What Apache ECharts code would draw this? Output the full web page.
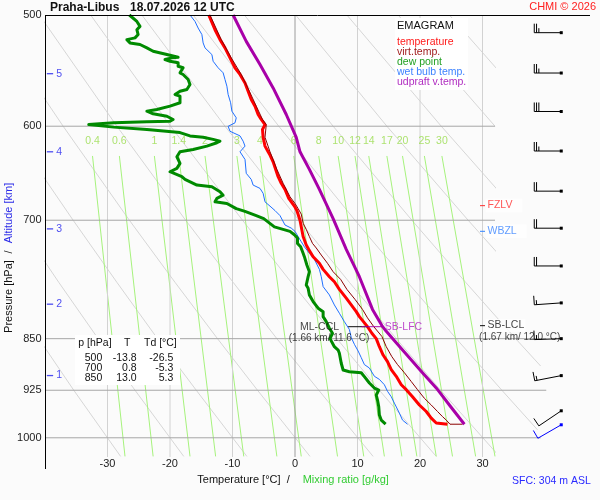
<!DOCTYPE html>
<html>
<head>
<meta charset="utf-8">
<script src="https://cdn.jsdelivr.net/npm/echarts@6/dist/echarts.min.js"></script>
<style>
  html, body { margin: 0; padding: 0; background: #fbfbfb; }
  #emagram { width: 600px; height: 500px; }
</style>
</head>
<body>
<div id="emagram"></div>
<script>
// ==============================================================
// sounding data  [pressure hPa, temperature °C]
// ==============================================================
var temperature = [[500,-13.8],[512.2,-12.8],[520.6,-12.0],[527.7,-11.2],[536.4,-10.4],[545.2,-9.6],[551.2,-8.8],[558.9,-8.0],[566.6,-7.5],[574.3,-7.0],[580.6,-6.4],[588.6,-5.9],[593.4,-5.4],[598.4,-4.8],[603.2,-5.2],[611.0,-5.1],[619.9,-4.8],[625.7,-4.3],[629.1,-4.0],[636.0,-3.5],[644.0,-3.1],[651.8,-2.7],[658.9,-2.2],[665.5,-1.6],[675.4,-1.0],[684.0,-0.1],[689.0,0.3],[700,0.8],[719.0,1.3],[728.9,1.8],[734.3,2.2],[743.1,2.9],[751.2,3.9],[758.7,4.5],[767.9,5.5],[774.3,6.3],[784.0,7.1],[795.4,8.2],[804.3,9.0],[813.2,9.8],[819.9,10.3],[833.4,11.6],[842.5,12.3],[850,13.0],[861.3,13.5],[873.1,14.1],[882.7,14.8],[894.2,15.4],[904.1,16.2],[916.7,17.0],[924.1,17.8],[934.9,18.8],[947.7,19.9],[957.8,21.0],[968.4,21.8],[976.1,22.6],[978,24.4]];

var virtTemp = [[500,-13.6],[520.6,-11.8],[536.4,-10.2],[551.2,-8.6],[566.6,-7.3],[580.6,-6.2],[593.4,-5.2],[598.4,-4.6],[611.0,-4.8],[625.7,-4.0],[644.0,-2.9],[658.9,-1.9],[673.6,-0.8],[681.0,0.0],[686.8,0.5],[693.0,1.0],[703.5,1.3],[710.6,1.8],[719.0,2.3],[727.1,2.8],[732.6,3.4],[741.1,4.2],[751.2,5.2],[761.7,6.1],[771.3,7.3],[784.0,8.3],[797.0,9.6],[810.2,10.8],[821.5,11.6],[833.4,12.6],[846.9,13.9],[861.3,14.6],[875.5,15.5],[886.9,16.4],[898.8,17.5],[911.9,18.6],[924.1,19.6],[937.3,20.7],[947.7,21.8],[957.8,22.8],[965.9,23.6],[971.4,24.2],[978,24.8],[978,26.8]];

var dewPoint = [[500,-26.5],[505.3,-25.3],[509.4,-24.8],[512.2,-25.3],[516.3,-25.1],[519.1,-25.6],[520.6,-26.9],[522.1,-26.9],[523.4,-26.4],[524.8,-24.8],[527.7,-23.7],[530.6,-22.7],[533.5,-20.5],[535.9,-18.7],[536.4,-19.7],[537.9,-20.8],[539.4,-20.0],[540.8,-18.7],[543.8,-18.7],[545.2,-17.9],[549.7,-18.4],[551.2,-17.9],[555.8,-17.1],[560.4,-16.8],[565.0,-17.3],[566.6,-18.4],[569.6,-19.2],[571.2,-18.4],[577.4,-18.4],[580.6,-20.0],[583.8,-22.1],[585.4,-23.7],[587.9,-22.7],[590.3,-20.5],[593.4,-19.5],[595.2,-20.0],[595.7,-23.7],[596.7,-29.0],[598.4,-33.0],[600.9,-29.0],[603.2,-23.7],[606.3,-18.4],[609.6,-16.8],[611.0,-14.7],[613.1,-13.1],[614.9,-12.0],[616.5,-12.5],[619.9,-14.1],[623.3,-16.3],[625.7,-18.4],[630.8,-18.9],[637.7,-18.4],[642.9,-18.9],[646.5,-20.0],[651.8,-18.1],[654.7,-17.6],[660.8,-15.7],[662.7,-13.3],[668.1,-12.0],[671.8,-11.5],[675.4,-12.5],[679.2,-12.8],[681.0,-10.9],[686.8,-9.4],[689.9,-8.0],[694.7,-6.2],[698.1,-5.0],[707.6,-3.3],[712.9,-0.8],[716.9,-0.1],[720.7,0.4],[727.1,0.4],[731.1,0.9],[739.0,1.3],[743.1,1.5],[753.3,1.9],[761.7,2.3],[767.9,2.1],[778.4,1.8],[782.6,2.1],[791.2,2.3],[799.9,2.9],[808.6,3.7],[813.2,4.5],[819.9,4.5],[826.6,5.0],[835.6,5.5],[842.5,6.0],[850,5.6],[861.3,6.3],[866.0,6.9],[870.7,7.1],[885.0,7.4],[894.8,7.7],[897.3,8.7],[898.8,10.6],[904.7,11.1],[914.1,11.9],[921.7,12.7],[924.7,13.4],[932.3,13.0],[940.0,13.2],[950.4,13.4],[963.4,13.5],[971.4,13.8],[977.8,14.5]];

var wetBulb = [[500,-16.8],[505.3,-16.0],[510.8,-15.5],[516.3,-14.9],[523.4,-14.7],[527.7,-14.4],[533.5,-13.3],[539.4,-13.1],[545.2,-12.3],[549.7,-11.5],[555.8,-11.2],[561.9,-10.9],[569.6,-10.7],[577.4,-10.3],[585.4,-10.1],[591.8,-9.4],[596.7,-9.6],[600.1,-10.7],[605.0,-10.4],[609.6,-8.8],[614.9,-8.3],[619.9,-8.0],[625.7,-8.8],[633.6,-8.0],[648.2,-7.8],[654.7,-7.0],[660.8,-6.7],[664.4,-5.6],[669.8,-5.1],[679.2,-4.8],[684.0,-4.0],[689.0,-3.2],[694.7,-2.4],[705.5,-1.6],[709.1,-0.6],[712.9,0.0],[719.0,0.5],[725.1,1.0],[731.1,1.5],[739.0,2.3],[746.4,3.1],[758.7,3.9],[767.9,4.2],[780.5,4.5],[791.2,5.5],[804.3,6.3],[815.3,7.1],[826.6,7.9],[837.3,8.7],[848.5,9.0],[857.9,9.5],[867.4,10.1],[876.9,10.6],[886.9,11.1],[891.9,11.9],[904.1,12.7],[908.7,13.5],[916.7,14.3],[926.6,14.8],[934.9,15.4],[944.8,15.9],[960.3,16.7],[971.4,17.2],[978,18.0]];

var updraft = [[500,-9.9],[522.1,-7.8],[542.3,-5.6],[563.5,-3.5],[588.6,-1.4],[611,0.2],[625.7,0.8],[644,2.3],[665.5,3.9],[698.1,6.1],[734.3,8.2],[767.9,10.3],[810.2,12.4],[832,13.9],[839.8,14.6],[855.7,16.2],[876.9,18.3],[898.8,20.4],[921.5,22.6],[947.7,24.7],[978,27.1]];

// dry adiabats [pressure, temperature]
var dryAdiabats = [
  [[700,-53.6],[775,-47.1],[850,-41.0],[925,-35.4],[1031,-27.9]],
  [[700,-44.5],[775,-37.8],[850,-31.5],[925,-25.6],[1031,-17.8]],
  [[600,-45.8],[700,-35.5],[775,-28.5],[850,-22.0],[925,-15.8],[1031,-7.7]],
  [[500,-49.1],[600,-37.1],[700,-26.5],[775,-19.2],[850,-12.4],[925,-6.0],[1031,2.4]],
  [[500,-40.9],[600,-28.5],[700,-17.5],[775,-9.9],[850,-2.9],[925,3.8],[1031,12.5]],
  [[500,-32.7],[600,-19.9],[700,-8.4],[775,-0.6],[850,6.7],[925,13.5],[1031,22.6]],
  [[500,-24.5],[600,-11.2],[700,0.6],[775,8.7],[850,16.2],[925,23.3],[1031,32.7]],
  [[500,0.1],[600,14.7],[700,27.7],[775,36.6]],
  [[500,8.3],[600,23.4],[700,36.7]],
  [[500,16.5],[600,32.0]],
  [[500,24.7],[550,32.9]]
];
// the two adiabats that run on into the wind column
var dryAdiabatsLow = [
  [[500,-16.3],[600,-2.6],[700,9.6],[775,18.0],[850,25.8],[925,33.1],[987,38.8]],
  [[500,-8.1],[600,6.1],[700,18.7],[775,27.3],[850,35.3],[889,39.3]]
];

// mixing ratio lines (g/kg): dew point at 630 hPa and at 1031 hPa
var mixRatio = [0.4, 0.6, 1, 1.4, 2, 3, 4, 6, 8, 10, 12, 14, 17, 20, 25, 30];
var mixTopT = [-32.4, -28.1, -22.5, -18.6, -14.4, -9.3, -5.6, -0.2, 3.8, 6.9, 9.6, 11.8, 14.7, 17.2, 20.7, 23.5];
var mixBotT = [-27.2, -22.7, -16.8, -12.7, -8.2, -2.9, 1.0, 6.8, 11.0, 14.3, 17.1, 19.5, 22.6, 25.2, 28.9, 32.0];

var pressureTicks = [500, 600, 700, 850, 925, 1000];
var isobars = [600, 700, 850, 925, 1000];
var tempTicks = [-30, -20, -10, 0, 10, 20, 30];

var altitudeKm = [1, 2, 3, 4, 5];
var altitudeP = [903, 803.3, 710, 625.7, 550.5];

// wind profile, last entry is the surface
var windP = [514.7, 549.9, 585.7, 624.9, 667.4, 709.2, 754.5, 801.6, 850, 903.1, 956.7, 978.9];
var windDir = [270, 270, 270, 270, 270, 270, 270, 266, 268, 259, 236, 240];
var windSpd = [25, 25, 30, 25, 20, 20, 20, 15, 15, 15, 10, 10];

var tableP = [500, 700, 850];
var tableT = [-13.8, 0.8, 13.0];
var tableTd = [-26.5, -5.3, 5.3];

var levelP = { FZLV: 683.4, WBZL: 712.9, SBLCL: 832, MLCCL: 833.4, SBLFC: 833.4 };

// ==============================================================
var FONT = '"Liberation Sans", Arial, sans-serif';
var lp = function (p) { return Math.log10(p); };
var xy = function (rows) { return rows.map(function (r) { return [r[1], lp(r[0])]; }); };

function lineSeries(data, color, width, grid, z) {
    return {
        type: 'line', xAxisIndex: grid, yAxisIndex: grid, data: data,
        symbol: 'none', silent: true, z: z, clip: true,
        lineStyle: { color: color, width: width, join: 'round' }
    };
}

var series = [];

// background: dry adiabats
dryAdiabats.forEach(function (a) { series.push(lineSeries(xy(a), '#d6d6d6', 1, 0, 1)); });
dryAdiabatsLow.forEach(function (a) { series.push(lineSeries(xy(a), '#d6d6d6', 1, 1, 1)); });

// mixing ratio lines
mixRatio.forEach(function (w, i) {
    series.push(lineSeries([[mixTopT[i], lp(630)], [mixBotT[i], lp(1031)]], '#a6f27c', 1, 0, 1));
});
series.push({
    type: 'scatter', xAxisIndex: 0, yAxisIndex: 0, silent: true, z: 2,
    symbolSize: 1, itemStyle: { color: 'rgba(0,0,0,0)' },
    data: mixRatio.map(function (w, i) { return [mixTopT[i], lp(615)]; }),
    label: {
        show: true, position: 'inside', color: '#99dc4c', fontSize: 10.5, fontFamily: FONT,
        formatter: function (p) { return String(mixRatio[p.dataIndex]); }
    }
});

// isotherm grid lines
tempTicks.forEach(function (t) {
    series.push(lineSeries([[t, lp(500)], [t, lp(1032)]], t === 0 ? '#9c9c9c' : '#d2d2d2', 1, 0, 1));
});
// isobars
var isobarEnd = { 600: 32, 700: 32, 850: 40.2, 925: 40.2, 1000: 39.3 };
isobars.forEach(function (p) {
    series.push(lineSeries([[-40, lp(p)], [isobarEnd[p], lp(p)]], '#a6a6a6', 1, 1, 1));
});

// profiles
series.push(lineSeries(xy(wetBulb), '#1f6fff', 1, 0, 5));
series.push(lineSeries(xy(dewPoint), '#008a00', 3, 0, 5));
series.push(lineSeries(xy(temperature), '#ff0000', 3, 0, 5));
series.push(lineSeries(xy(virtTemp), '#8c0000', 1, 0, 5));
series.push(lineSeries(xy(updraft), '#a800a8', 3, 0, 5));

// altitude marks
series.push({
    type: 'scatter', xAxisIndex: 0, yAxisIndex: 0, silent: true, z: 6,
    symbol: 'rect', symbolSize: [6.3, 1.3], itemStyle: { color: '#2222ee' },
    data: altitudeP.map(function (p) { return [-39.2, lp(p)]; }),
    label: {
        show: true, position: 'right', distance: 3, color: '#2222ee', fontSize: 10.5, fontFamily: FONT,
        formatter: function (p) { return String(altitudeKm[p.dataIndex]); }
    }
});

// level annotations
function mark(t, p, size, color, label) {
    return { value: [t, lp(p)], symbol: 'rect', symbolSize: size, itemStyle: { color: color }, label: label };
}
function note(t, p, text) {
    return {
        value: [t, lp(p)], symbolSize: 1, itemStyle: { color: 'rgba(0,0,0,0)' },
        label: { show: true, position: 'inside', formatter: text, color: '#111', fontSize: 10, fontFamily: FONT }
    };
}
series.push({
    type: 'scatter', xAxisIndex: 1, yAxisIndex: 1, silent: true, z: 7,
    data: [
        mark(30.0, levelP.FZLV, [5, 1.2], '#ff2020', { show: true, position: 'right', distance: 0.5, formatter: 'FZLV', color: '#ff2a2a', fontSize: 10.5, fontFamily: FONT, backgroundColor: '#fff', padding: [2, 10, 1, 2] }),
        mark(30.0, levelP.WBZL, [5, 1.2], '#2a7fff', { show: true, position: 'right', distance: 0.5, formatter: 'WBZL', color: '#3a84ff', fontSize: 10.5, fontFamily: FONT, backgroundColor: '#fff', padding: [2, 10, 1, 2] }),
        mark(30.0, levelP.SBLCL, [5, 1.2], '#000', { show: true, position: 'right', distance: 0.5, formatter: 'SB-LCL', color: '#111', fontSize: 10.5, fontFamily: FONT, backgroundColor: '#fff', padding: [1, 1, 1, 2] }),
        note(35.95, 848.3, '(1.67 km/ 12.0 °C)'),
        mark(10.1, levelP.MLCCL, [20, 1.2], '#000', { show: true, position: 'left', distance: 9, formatter: 'ML-CCL', color: '#111', fontSize: 10.5, fontFamily: FONT }),
        note(5.44, 848.8, '(1.66 km/ 11.6 °C)'),
        mark(12.4, levelP.SBLFC, [21.6, 1.2], '#a800a8', { show: true, position: 'right', distance: 1.5, formatter: 'SB-LFC', color: '#b020c0', fontSize: 10.5, fontFamily: FONT })
    ]
});

// wind barbs
series.push({
    type: 'custom', xAxisIndex: 1, yAxisIndex: 1, silent: true, z: 8,
    data: windP.map(function (p, i) { return [42.6, lp(p), windDir[i], windSpd[i], i === windP.length - 1 ? 1 : 0]; }),
    renderItem: function (params, api) {
        var pt = api.coord([api.value(0), api.value(1)]);
        var d = api.value(2) * Math.PI / 180;
        var color = api.value(4) ? '#0000ff' : '#000';
        var sx = Math.sin(d), sy = -Math.cos(d);
        var bx = Math.cos(d), by = Math.sin(d);
        var L = 27;
        var kids = [
            { type: 'line', shape: { x1: pt[0], y1: pt[1], x2: pt[0] + sx * L, y2: pt[1] + sy * L }, style: { stroke: color, lineWidth: 1 } },
            { type: 'rect', shape: { x: pt[0] - 1.5, y: pt[1] - 1.5, width: 3, height: 3 }, style: { fill: color } }
        ];
        var rest = api.value(3), pos = 0;
        function barb(len) {
            var ox = pt[0] + sx * (L - pos), oy = pt[1] + sy * (L - pos);
            kids.push({ type: 'line', shape: { x1: ox, y1: oy, x2: ox + bx * len, y2: oy + by * len }, style: { stroke: color, lineWidth: 1 } });
            pos += 2.3;
        }
        while (rest >= 10) { barb(9); rest -= 10; }
        if (rest >= 5) { barb(4.5); }
        return { type: 'group', children: kids };
    }
});

// ==============================================================
// texts and frame
// ==============================================================
var graphic = [
    { type: 'rect', shape: { x: 395, y: 18, width: 73, height: 72 }, style: { fill: '#fff' }, z: 3 },
    { type: 'rect', shape: { x: 75, y: 335, width: 105, height: 50 }, style: { fill: '#fff' }, z: 3 },
    { type: 'line', shape: { x1: 45.5, y1: 15, x2: 45.5, y2: 469 }, style: { stroke: '#000', lineWidth: 1 }, z: 9 },
    { type: 'line', shape: { x1: 45, y1: 15.5, x2: 590, y2: 15.5 }, style: { stroke: '#000', lineWidth: 1 }, z: 9 }
];
function text(x, y, str, color, font, align, extra) {
    var el = { type: 'text', x: x, y: y, z: 9, style: { text: str, fill: color, font: font, align: align || 'left', verticalAlign: 'middle' } };
    if (extra) { for (var k in extra) el[k] = extra[k]; }
    graphic.push(el);
}
var F11 = '11px ' + FONT, F105 = '10.5px ' + FONT, B12 = 'bold 12px ' + FONT;

text(50, 7.5, 'Praha-Libus', '#111', B12);
text(130, 7.5, '18.07.2026 12 UTC', '#111', B12);
text(596, 7, 'CHMI \u00a9 2026', '#ff2020', F11, 'right');

text(397, 26, 'EMAGRAM', '#111', F11);
var legendItems = [['temperature', '#ff1a1a'], ['virt.temp.', '#a01c1c'], ['dew point', '#22a022'], ['wet bulb temp.', '#3c82ff'], ['udpraft v.temp.', '#b02cc0']];
legendItems.forEach(function (it, i) { text(397, 42 + 10 * i, it[0], it[1], F105); });

text(78.3, 343.3, 'p [hPa]', '#111', F105);
text(127.3, 343.3, 'T', '#111', F105, 'center');
text(144, 343.3, 'Td [\u00b0C]', '#111', F105);
tableP.forEach(function (p, i) {
    var y = 358.3 + 10 * i;
    text(102.3, y, String(p), '#111', F105, 'right');
    text(136.7, y, tableT[i].toFixed(1), '#111', F105, 'right');
    text(173.3, y, tableTd[i].toFixed(1), '#111', F105, 'right');
});

text(8.5, 296.5, 'Pressure [hPa]', '#111', F11, 'center', { rotation: Math.PI / 2 });
text(8.5, 252, '/', '#111', F11, 'center', { rotation: Math.PI / 2 });
text(8.5, 213, 'Altitude [km]', '#2a2ae8', F11, 'center', { rotation: Math.PI / 2 });

text(197.3, 480, 'Temperature [\u00b0C]  /', '#111', F11);
text(302.7, 480, 'Mixing ratio [g/kg]', '#33cc33', F11);
text(512, 481.5, 'SFC: 304 m ASL', '#2a2aff', F105);

// ==============================================================
var chart = echarts.init(document.getElementById('emagram'));
var option = {
    backgroundColor: '#fbfbfb',
    animation: false,
    textStyle: { fontFamily: FONT },
    grid: [
        { left: 45, top: 15, width: 450, height: 442, outerBoundsMode: 'none' },
        { left: 45, top: 15, width: 545, height: 442, outerBoundsMode: 'none' }
    ],
    xAxis: [
        {
            type: 'value', gridIndex: 0, min: -40, max: 32,
            axisLine: { show: false }, axisTick: { show: false }, splitLine: { show: false },
            axisLabel: { customValues: tempTicks, margin: 1, fontSize: 11, color: '#222' }
        },
        { type: 'value', gridIndex: 1, min: -40, max: 47.2, show: false, splitLine: { show: false } }
    ],
    yAxis: [
        {
            type: 'value', gridIndex: 0, inverse: true, min: lp(500), max: lp(1032),
            axisLine: { show: false }, axisTick: { show: false }, splitLine: { show: false },
            axisLabel: {
                customValues: pressureTicks.map(lp), margin: 3.5, fontSize: 11, color: '#222',
                formatter: function (v) { return String(Math.round(Math.pow(10, v))); }
            }
        },
        { type: 'value', gridIndex: 1, inverse: true, min: lp(500), max: lp(1032), show: false, splitLine: { show: false } }
    ],
    graphic: graphic,
    series: series
};
chart.setOption(option, true);
</script>
</body>
</html>
